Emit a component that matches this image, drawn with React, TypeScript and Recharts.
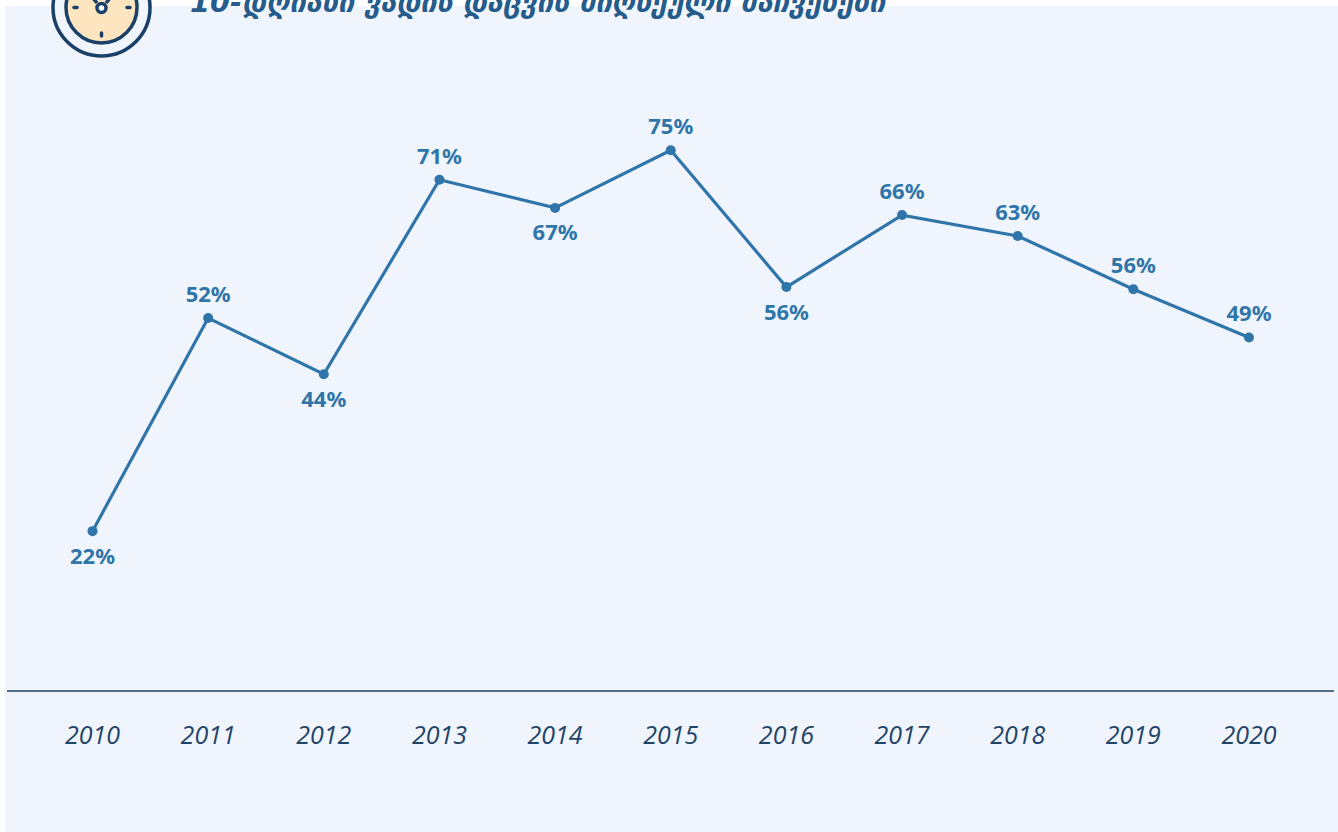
import { LineChart, Line, XAxis, YAxis, LabelList } from 'recharts';

const years = ['2010', '2011', '2012', '2013', '2014', '2015', '2016', '2017', '2018', '2019', '2020'];
const rates = [22.2, 51.8, 44.0, 71.0, 67.1, 75.1, 56.1, 66.1, 63.2, 55.8, 49.1];
const labelsBelow = ['2010', '2012', '2014', '2016'];
const chartTitle = '10-დღიანი ვადის დაცვის მიღწეული მაჩვენები';

const chartData = years.map((year, i) => ({ year, rate: rates[i] }));

const LINE_BLUE = '#2f75a9';
const NAVY = '#1f4468';

function PointLabel(props: any) {
  const { x, y, value, index } = props;
  const below = labelsBelow.includes(years[index]);
  return (
    <text
      x={x}
      y={below ? y + 32.5 : y - 16}
      textAnchor="middle"
      fill={LINE_BLUE}
      style={{ fontFamily: 'Noto Sans', fontWeight: 700, fontSize: 22 }}
    >
      {Math.round(value)}%
    </text>
  );
}

function ClockIcon() {
  return (
    <svg width={110} height={64} style={{ position: 'absolute', left: 46, top: 0 }}>
      <circle cx={55.5} cy={7.5} r={48.5} fill="#f0f5fd" stroke="#1a4068" strokeWidth={3.5} />
      <circle cx={55.5} cy={7.5} r={35.5} fill="#fde5c0" stroke="#1a4068" strokeWidth={3.5} />
      <line x1={28} y1={7.5} x2={31} y2={7.5} stroke="#1a4068" strokeWidth={3.5} strokeLinecap="round" />
      <line x1={81} y1={7.5} x2={84} y2={7.5} stroke="#1a4068" strokeWidth={3.5} strokeLinecap="round" />
      <line x1={55.5} y1={33} x2={55.5} y2={36} stroke="#1a4068" strokeWidth={3.5} strokeLinecap="round" />
      <line x1={51} y1={3} x2={46} y2={-3} stroke="#1a4068" strokeWidth={3.5} />
      <line x1={60} y1={3} x2={65} y2={-3} stroke="#1a4068" strokeWidth={3.5} />
      <circle cx={55.5} cy={8} r={4.5} fill="#fff" stroke="#1a4068" strokeWidth={3.5} />
    </svg>
  );
}

export default function App() {
  return (
    <div style={{ position: 'absolute', left: 0, top: 0, width: 1338, height: 832, overflow: 'hidden', background: '#fff' }}>
      <div style={{ position: 'absolute', left: 5, top: 6, right: 0, bottom: 0, background: '#f0f5fd' }} />
      <ClockIcon />
      <div
        style={{
          position: 'absolute',
          left: 190,
          top: -15,
          whiteSpace: 'nowrap',
          fontFamily: 'DejaVu Sans',
          fontWeight: 700,
          fontStyle: 'italic',
          fontSize: 28.8,
          color: '#255c8c',
        }}
      >
        {chartTitle}
      </div>
      <div style={{ position: 'absolute', left: 0, top: 0 }}>
        <LineChart width={1338} height={832} data={chartData} margin={{ top: 115, right: 4, bottom: 0, left: 7 }}>
          <XAxis
            dataKey="year"
            scale="point"
            padding={{ left: 85.5, right: 85 }}
            height={141}
            interval={0}
            axisLine={{ stroke: NAVY, strokeWidth: 1.5 }}
            tickLine={false}
            tickMargin={29}
            tick={{ fill: NAVY, fontSize: 25, fontStyle: 'italic', fontFamily: 'Open Sans' }}
          />
          <YAxis hide domain={[0, 80]} />
          <Line
            dataKey="rate"
            type="linear"
            stroke={LINE_BLUE}
            strokeWidth={3.2}
            dot={{ r: 5, fill: LINE_BLUE, stroke: 'none' }}
            isAnimationActive={false}
          >
            <LabelList dataKey="rate" content={PointLabel} />
          </Line>
        </LineChart>
      </div>
    </div>
  );
}
